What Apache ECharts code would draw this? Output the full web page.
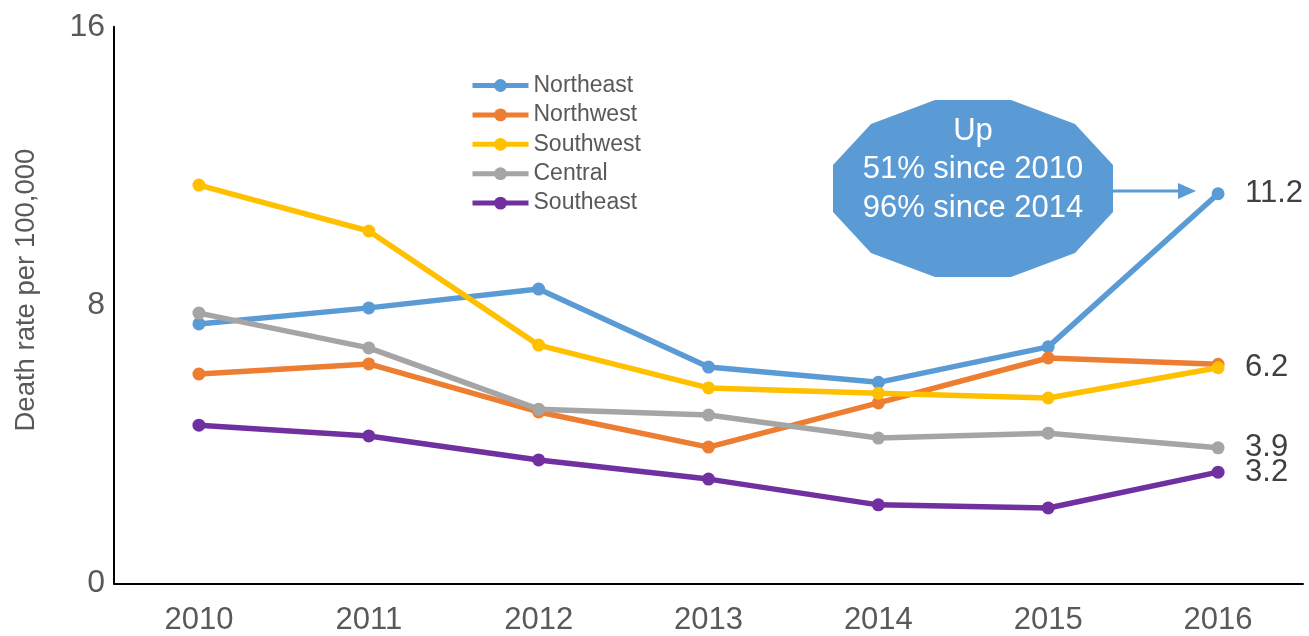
<!DOCTYPE html>
<html>
<head>
<meta charset="utf-8">
<script src="https://cdn.jsdelivr.net/npm/echarts@6/dist/echarts.min.js"></script>
<style>
  html, body { margin: 0; padding: 0; background: #fff; }
  #chart { width: 1309px; height: 636px; }
</style>
</head>
<body>
<div id="chart"></div>
<script>
// data
var years = ["2010", "2011", "2012", "2013", "2014", "2015", "2016"];
var northeast = [7.46, 7.92, 8.46, 6.22, 5.78, 6.8, 11.2];
var northwest = [6.02, 6.31, 4.93, 3.92, 5.19, 6.48, 6.3];
var southwest = [11.45, 10.13, 6.85, 5.62, 5.47, 5.33, 6.2];
var central = [7.77, 6.77, 5.01, 4.84, 4.18, 4.32, 3.9];
var southeast = [4.55, 4.24, 3.55, 3.0, 2.26, 2.17, 3.2];
var yTicks = [0, 8, 16];

var font = "Liberation Sans";
var chart = echarts.init(document.getElementById("chart"));

function makeSeries(name, data, color, withLabel) {
  return {
    name: name,
    type: "line",
    data: data,
    symbol: "circle",
    symbolSize: 13,
    lineStyle: { width: 5.5, color: color },
    itemStyle: { color: color },
    endLabel: {
      show: withLabel,
      distance: 27,
      fontFamily: font,
      fontSize: 31,
      color: "#404040",
      formatter: function (p) { return p.value.toFixed(1); },
    },
  };
}

var option = {
  animation: false,
  grid: { left: 114, right: 6, top: 26.7, bottom: 52.5 },
  legend: {
    orient: "vertical",
    left: 465,
    top: 69,
    itemWidth: 56,
    itemHeight: 16,
    itemGap: 6.4,
    lineStyle: { width: 5 },
    textStyle: { fontFamily: font, fontSize: 23, color: "#595959" },
    data: ["Northeast", "Northwest", "Southwest", "Central", "Southeast"],
  },
  xAxis: {
    type: "category",
    data: years,
    boundaryGap: true,
    axisLine: { lineStyle: { color: "#000", width: 2 } },
    axisTick: { show: false },
    axisLabel: { margin: 21, fontFamily: font, fontSize: 31, color: "#595959" },
  },
  yAxis: {
    type: "value",
    min: yTicks[0],
    max: yTicks[yTicks.length - 1],
    interval: yTicks[1] - yTicks[0],
    name: "Death rate per 100,000",
    nameLocation: "middle",
    nameGap: 74,
    nameTextStyle: { fontFamily: font, fontSize: 27.5, color: "#595959", padding: [0, 0, 0, 30] },
    axisLine: { show: true, lineStyle: { color: "#000", width: 2 } },
    axisTick: { show: false },
    splitLine: { show: false },
    axisLabel: { margin: 9, fontFamily: font, fontSize: 32, color: "#595959", padding: [0, 0, 14, 0] },
  },
  series: [
    makeSeries("Northeast", northeast, "#5B9BD5", true),
    makeSeries("Northwest", northwest, "#ED7D31", false),
    makeSeries("Southwest", southwest, "#FFC000", true),
    makeSeries("Central", central, "#A5A5A5", true),
    makeSeries("Southeast", southeast, "#7030A0", true),
  ],
  graphic: [
    {
      type: "polygon",
      z: 100,
      shape: {
        points: [[935, 100], [1011, 100], [1075, 124], [1113, 165], [1113, 212], [1075, 253],
                 [1011, 277], [935, 277], [871, 253], [833, 212], [833, 165], [871, 124]],
      },
      style: { fill: "#5B9BD5" },
    },
    {
      type: "line",
      z: 100,
      shape: { x1: 1113, y1: 191, x2: 1182, y2: 191 },
      style: { stroke: "#5B9BD5", lineWidth: 3 },
    },
    {
      type: "polygon",
      z: 100,
      shape: { points: [[1178, 183], [1196, 191], [1178, 199]] },
      style: { fill: "#5B9BD5" },
    },
    {
      type: "text", z: 101, x: 973, y: 131,
      style: { text: "Up", fill: "#fff", fontFamily: font, fontSize: 31, align: "center", verticalAlign: "middle" },
    },
    {
      type: "text", z: 101, x: 973, y: 169,
      style: { text: "51% since 2010", fill: "#fff", fontFamily: font, fontSize: 31, align: "center", verticalAlign: "middle" },
    },
    {
      type: "text", z: 101, x: 973, y: 208,
      style: { text: "96% since 2014", fill: "#fff", fontFamily: font, fontSize: 31, align: "center", verticalAlign: "middle" },
    },
  ],
};
chart.setOption(option);
</script>
</body>
</html>
